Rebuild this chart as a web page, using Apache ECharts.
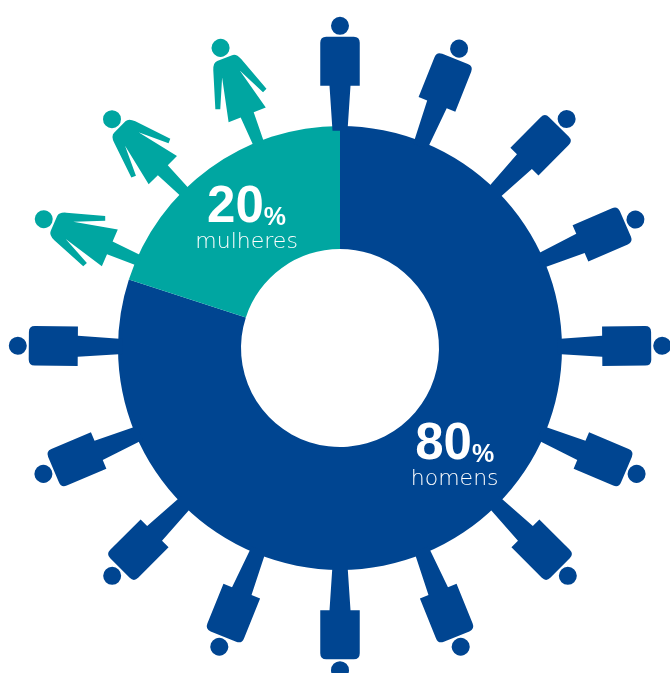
<!DOCTYPE html>
<html>
<head>
<meta charset="utf-8">
<style>html,body{margin:0;padding:0;background:#fff;overflow:hidden}#chart{width:670px;height:673px}</style>
<script src="https://cdn.jsdelivr.net/npm/echarts@6/dist/echarts.min.js"></script>
</head>
<body>
<div id="chart"></div>
<script>
// Share of men and women
const groups = ['homens', 'mulheres'];
const shares = [80, 20];
const groupColors = ['#004591', '#00A6A1'];

// Position of each person around the ring, clockwise from the top
const personAngles = [0, 21.7, 44.7, 66.5, 89.6, 113, 135, 158, 180, 202, 225, 247, 270.4, 293.5, 315.1, 338.3];
const personGroups = [0, 0, 0, 0, 0, 0, 0, 0, 0, 0, 0, 0, 0, 1, 1, 1];

// Where the two percentage labels sit: [radius, angle]
const labelSpots = [[157.8, 133.4], [158.9, 324]];

const HEAD = 'M-9,-323 A9,9 0 1 1 9,-323 A9,9 0 1 1 -9,-323 Z ';
const manPath = 'path://' + HEAD +
  'M-13.75,-312 L13.75,-312 Q19.75,-312 19.75,-306 L19.75,-263 L10.5,-263 L7.5,-218 L-7.5,-218 L-10.5,-263 L-19.75,-263 L-19.75,-306 Q-19.75,-312 -13.75,-312 Z';
const womanPath = 'path://' + HEAD +
  'M-8,-312 L8,-312 Q12.5,-312 15,-305 L27.5,-268 L23,-266 L9.5,-295 L20,-251 L7,-251 L5.5,-218 L-5.5,-218 L-7,-251 L-20,-251 L-9.5,-295 L-23,-266 L-27.5,-268 L-15,-305 Q-12.5,-312 -8,-312 Z';

// Both outlines span radius 218 to 332, so each symbol is centred near radius 275
const symbolRadii = [274.2, 275];
const symbolSizes = [[39.5, 114], [55, 114]];

const chart = echarts.init(document.getElementById('chart'), null, { renderer: 'canvas' });
chart.setOption({
  animation: false,
  polar: { center: [340, 348], radius: 400 },
  radiusAxis: { min: 0, max: 400, show: false },
  angleAxis: { min: 0, max: 360, startAngle: 90, clockwise: true, show: false },
  series: [
    {
      type: 'pie',
      center: [340, 348],
      radius: [99, 222],
      startAngle: 90,
      clockwise: true,
      silent: true,
      label: { show: false },
      labelLine: { show: false },
      itemStyle: { borderWidth: 0 },
      data: groups.map((name, i) => ({
        name,
        value: shares[i],
        itemStyle: { color: groupColors[i] }
      })),
      z: 2
    },
    {
      type: 'scatter',
      coordinateSystem: 'polar',
      silent: true,
      z: 3,
      data: personAngles.map((angle, i) => {
        const g = personGroups[i];
        return {
          value: [symbolRadii[g], angle],
          symbol: g === 0 ? manPath : womanPath,
          symbolSize: symbolSizes[g],
          symbolRotate: -angle,
          itemStyle: { color: groupColors[g], opacity: 1 }
        };
      })
    },
    {
      type: 'scatter',
      coordinateSystem: 'polar',
      silent: true,
      z: 4,
      symbolSize: 1,
      itemStyle: { color: 'transparent', opacity: 1 },
      data: groups.map((name, i) => ({
        value: labelSpots[i],
        label: {
          show: true,
          opacity: 1,
          position: 'inside',
          formatter: '{n|' + shares[i] + '}{p|%}\n{t|' + name + '}',
          rich: {
            n: { fontFamily: 'Liberation Sans', fontWeight: 'bold', fontSize: 51, color: '#fff', lineHeight: 46 },
            p: { fontFamily: 'Liberation Sans', fontWeight: 'bold', fontSize: 25, color: '#fff', lineHeight: 46, verticalAlign: 'bottom' },
            t: { fontFamily: 'DejaVu Sans', fontWeight: 200, fontSize: 22, color: '#fff', lineHeight: 23 }
          }
        }
      }))
    }
  ]
});
</script>
</body>
</html>
